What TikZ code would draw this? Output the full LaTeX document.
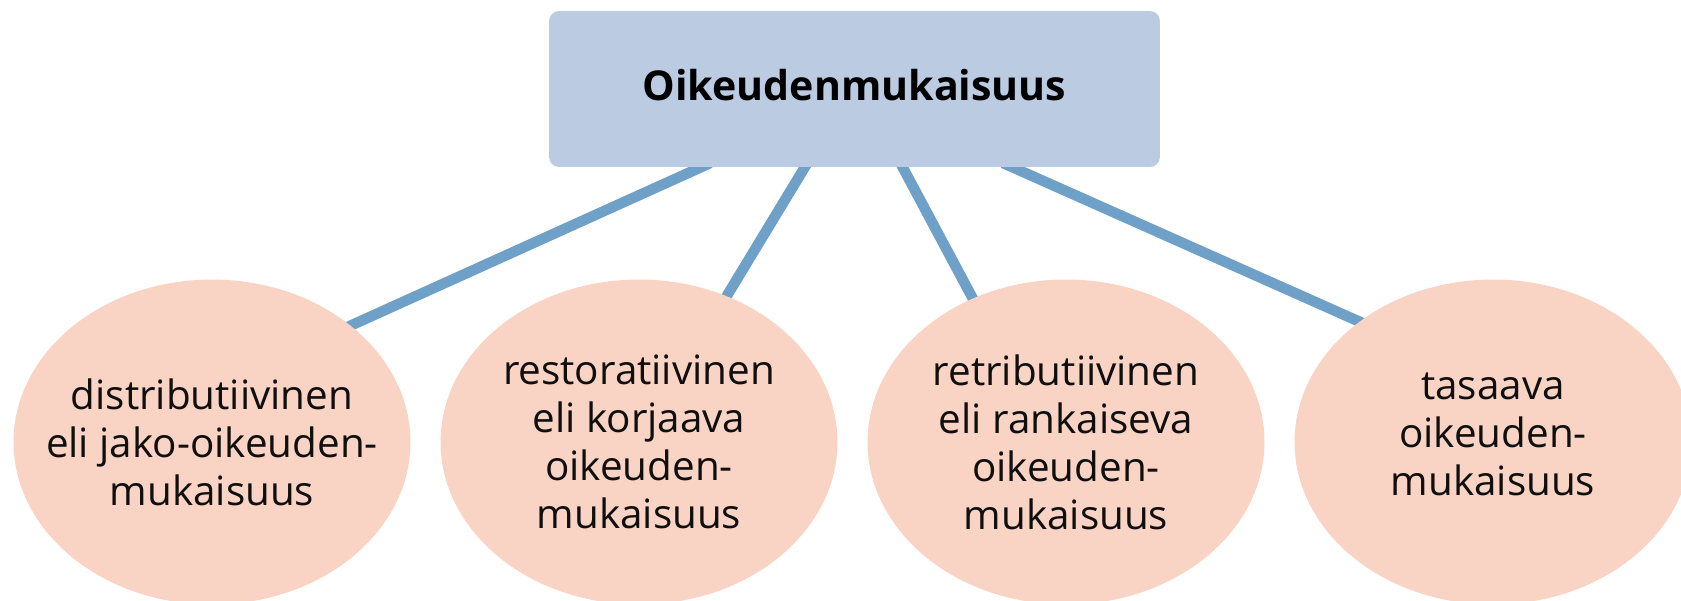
\documentclass[tikz,border=0pt]{standalone}
\usepackage{fontspec}
\setmainfont{Open Sans}
\usetikzlibrary{shapes.geometric,calc,backgrounds}
\definecolor{boxfill}{RGB}{186,203,226}
\definecolor{ellfill}{RGB}{249,211,196}
\definecolor{linkcol}{RGB}{111,160,199}
\definecolor{txt}{RGB}{15,15,15}
\tikzset{
  topbox/.style={rectangle, rounded corners=0.2cm, fill=boxfill, draw=none,
    minimum width=12.22cm, minimum height=3.12cm, inner sep=0pt,
    font=\fontsize{23.4}{28}\selectfont\bfseries, text=black},
  oval/.style={ellipse, fill=ellfill, draw=none, minimum width=7.94cm,
    minimum height=6.5cm, inner sep=0pt},
  ovaltext/.style={align=center, font=\fontsize{23}{27.3}\selectfont, text=txt, inner sep=0pt},
  link/.style={draw=linkcol, line width=0.21cm, shorten <=-6pt, shorten >=-6pt}
}
\begin{document}
\begin{tikzpicture}[x=0.02cm,y=-0.02cm]
\useasboundingbox (0,0) rectangle (1681,600);
\clip (0,0) rectangle (1681,600);
\node[topbox] (box) at (854.5,89) {\raisebox{4.2pt}{Oikeudenmukaisuus}};
\node[oval, label={[ovaltext]center:distributiivinen\\eli jako-oikeuden-\\mukaisuus}] (e1) at (212,442) {};
\node[oval, label={[ovaltext]center:restoratiivinen\\eli korjaava\\oikeuden-\\mukaisuus}] (e2) at (639,442) {};
\node[oval, label={[ovaltext]center:retributiivinen\\eli rankaiseva\\oikeuden-\\mukaisuus}] (e3) at (1066,442) {};
\node[oval, label={[ovaltext, yshift=4.5pt]center:tasaava\\oikeuden-\\mukaisuus}] (e4) at (1493,442) {};
\coordinate (s1) at ($(box.south west)+(152,0)$);
\coordinate (s2) at ($(box.south west)+(256,0)$);
\coordinate (s3) at ($(box.south west)+(354,0)$);
\coordinate (s4) at ($(box.south west)+(464,0)$);
\begin{scope}[on background layer]
\draw[link] (s1) -- (e1.40.3);
\draw[link] (s2) -- (e2.59.3);
\draw[link] (s3) -- (e3.123);
\draw[link] (s4) -- (e4.138.4);
\end{scope}
\end{tikzpicture}
\end{document}
